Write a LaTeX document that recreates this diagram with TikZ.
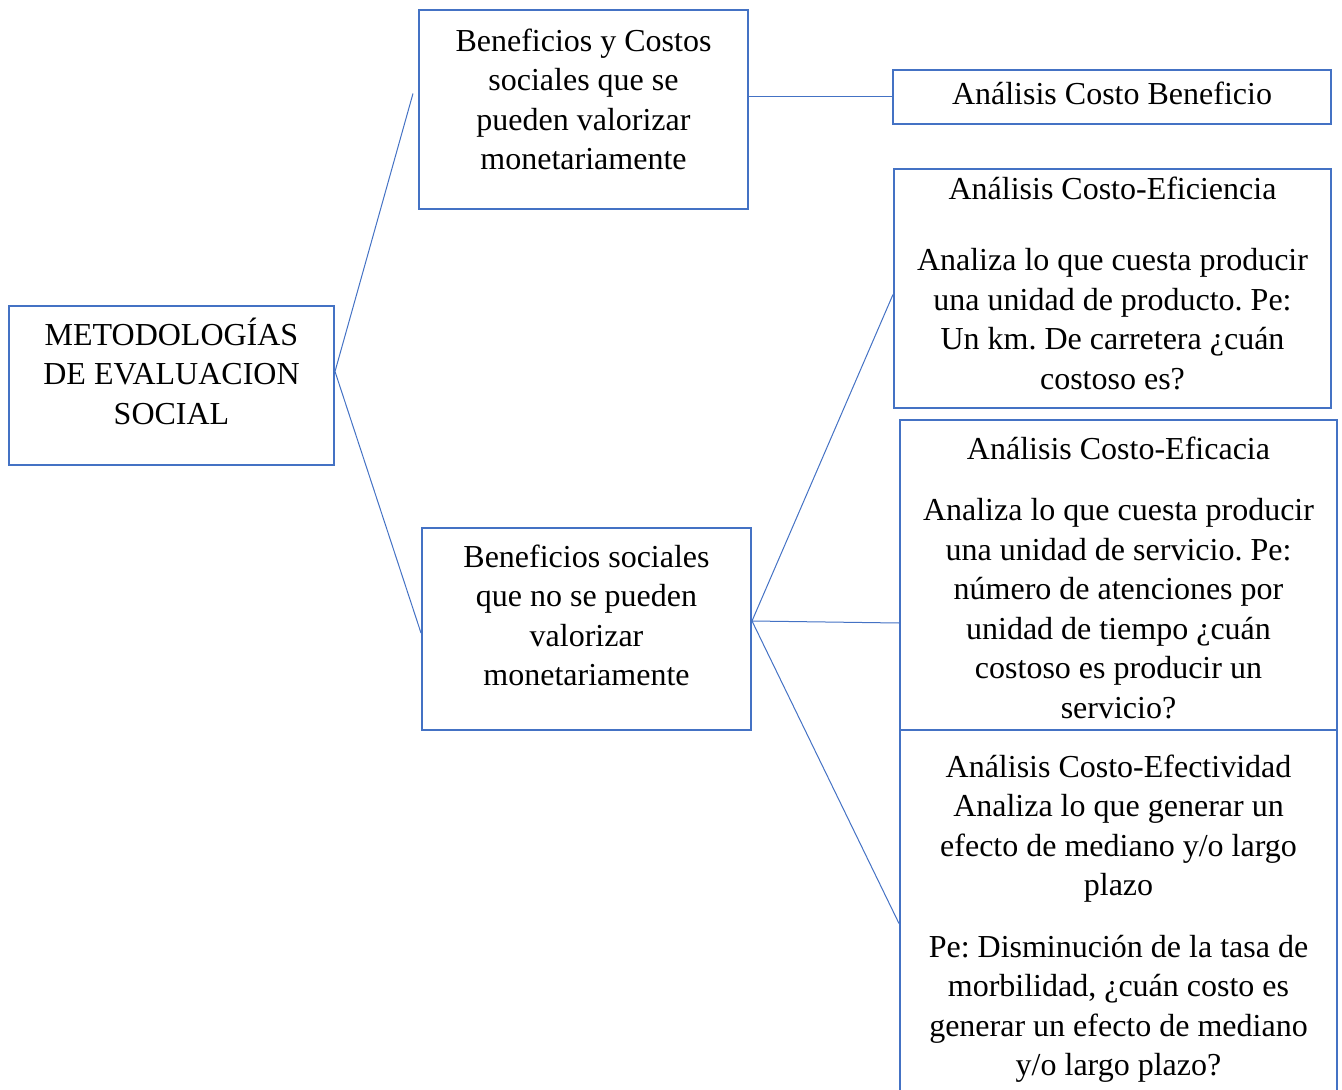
\documentclass[tikz,border=0pt]{standalone}
\usepackage{fontspec}
\setmainfont{Liberation Serif}
\frenchspacing
\usetikzlibrary{positioning}
\definecolor{boxblue}{RGB}{68,114,196}
\tikzset{
  caja/.style={draw=boxblue, line width=1pt, rectangle, anchor=north west, inner sep=0pt},
  texto/.style={align=center, inner sep=0pt, font=\fontsize{16}{19.75}\selectfont},
  enlace/.style={draw=boxblue, line width=0.5pt}
}
\begin{document}
\begin{tikzpicture}[x=0.5pt, y=-0.5pt]
\useasboundingbox (0,0) rectangle (1342,1090);
\clip (0,0) rectangle (1342,1090);
% Raiz
\node[caja, minimum width=162.5pt, minimum height=79.5pt] (raiz) at (8,305) {};
\node[texto, below=6pt of raiz.north] (raizt) {\strut METODOLOGÍAS\\DE EVALUACION\\SOCIAL};
% Segundo nivel
\node[caja, minimum width=164.5pt, minimum height=99.5pt] (valor) at (418,9) {};
\node[texto, below=7pt of valor.north] (valort) {\strut Beneficios y Costos\\sociales que se\\pueden valorizar\\monetariamente};
\node[caja, minimum width=164.5pt, minimum height=101pt] (novalor) at (421,527) {};
\node[texto, below=6pt of novalor.north] (novalort) {\strut Beneficios sociales\\que no se pueden\\valorizar\\monetariamente};
% Metodos
\node[caja, minimum width=219pt, minimum height=27pt, texto] (acb) at (892,69) {\strut Análisis Costo Beneficio};
\node[caja, minimum width=218.5pt, minimum height=119.5pt] (aceficiencia) at (893,168) {};
\node[texto, below=1.7pt of aceficiencia.north] (aceficienciat) {\strut Análisis Costo-Eficiencia\\[16pt]Analiza lo que cuesta producir\\una unidad de producto. Pe:\\Un km. De carretera ¿cuán\\costoso es?};
\node[caja, minimum width=218.5pt, minimum height=155pt] (aceficacia) at (899,419) {};
\node[texto, below=6.2pt of aceficacia.north] (aceficaciat) {\strut Análisis Costo-Eficacia\\[11pt]Analiza lo que cuesta producir\\una unidad de servicio. Pe:\\número de atenciones por\\unidad de tiempo ¿cuán\\costoso es producir un\\servicio?};
\node[caja, minimum width=218.5pt, minimum height=185.5pt] (acefectividad) at (899,729) {};
\node[texto, below=10.2pt of acefectividad.north] (acefectividadt) {\strut Análisis Costo-Efectividad\\Analiza lo que generar un\\efecto de mediano y/o largo\\plazo\\[11pt]Pe: Disminución de la tasa de\\morbilidad, ¿cuán costo es\\generar un efecto de mediano\\y/o largo plazo?};
% Conectores
\draw[enlace] ([yshift=7pt]raiz.east) -- ([xshift=-2.5pt,yshift=8pt]valor.west);
\draw[enlace] ([yshift=7pt]raiz.east) -- ([yshift=-2pt]novalor.west);
\draw[enlace] (acb.west -| valor.east) -- (acb.west);
\draw[enlace] ([yshift=4pt]novalor.east) -- ([yshift=-3pt]aceficiencia.west);
\draw[enlace] ([yshift=4pt]novalor.east) -- ([yshift=-24pt]aceficacia.west);
\draw[enlace] ([yshift=4pt]novalor.east) -- ([yshift=-4pt]acefectividad.west);
\end{tikzpicture}
\end{document}
